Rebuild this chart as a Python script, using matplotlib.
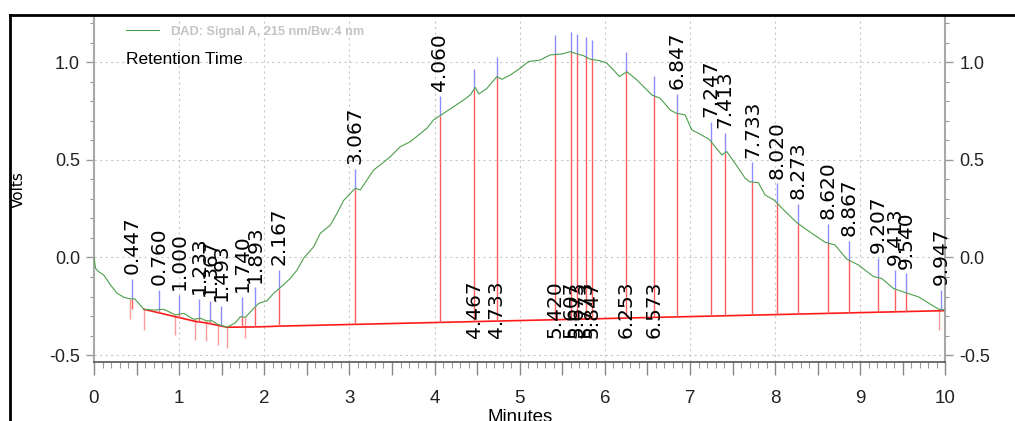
import matplotlib
matplotlib.use("Agg")
import matplotlib.pyplot as plt
from matplotlib.lines import Line2D
from matplotlib.ticker import MultipleLocator, FuncFormatter
import numpy as np

# DAD trace (minutes, volts)
trace_t = [0.0, 0.018, 0.056, 0.115, 0.194, 0.272, 0.350, 0.428, 0.479, 0.526,
           0.585, 0.702, 0.819, 0.957, 1.054, 1.171, 1.250, 1.320, 1.387, 1.453,
           1.563, 1.661, 1.719, 1.778, 1.857, 1.934, 2.033, 2.110, 2.209, 2.306,
           2.385, 2.462, 2.580, 2.658, 2.776, 2.854, 2.932, 3.011, 3.069, 3.128,
           3.167, 3.284, 3.363, 3.480, 3.597, 3.715, 3.812, 3.911, 3.988, 4.106,
           4.223, 4.340, 4.419, 4.478, 4.521, 4.615, 4.732, 4.791, 4.889, 5.006,
           5.103, 5.241, 5.358, 5.502, 5.593, 5.643, 5.749, 5.827, 5.937, 6.023,
           6.101, 6.171, 6.258, 6.376, 6.552, 6.649, 6.767, 6.840, 6.942, 7.021,
           7.099, 7.224, 7.295, 7.373, 7.432, 7.529, 7.647, 7.697, 7.803, 7.881,
           7.987, 8.120, 8.254, 8.430, 8.586, 8.703, 8.840, 8.977, 9.157, 9.251,
           9.387, 9.516, 9.681, 9.838, 9.923, 10.0]
trace_v = [0.000, -0.055, -0.073, -0.090, -0.141, -0.183, -0.204, -0.212, -0.212, -0.235,
           -0.265, -0.269, -0.265, -0.294, -0.286, -0.316, -0.311, -0.324, -0.324, -0.342,
           -0.357, -0.334, -0.303, -0.306, -0.269, -0.235, -0.221, -0.183, -0.146, -0.107,
           -0.064, -0.004, 0.055, 0.124, 0.166, 0.226, 0.292, 0.329, 0.354, 0.346,
           0.371, 0.448, 0.474, 0.516, 0.567, 0.593, 0.627, 0.662, 0.704, 0.738,
           0.772, 0.806, 0.832, 0.871, 0.837, 0.866, 0.926, 0.912, 0.934, 0.969,
           1.003, 1.011, 1.037, 1.042, 1.054, 1.046, 1.033, 1.015, 1.008, 0.994,
           0.960, 0.926, 0.951, 0.909, 0.832, 0.815, 0.755, 0.738, 0.730, 0.653,
           0.636, 0.605, 0.567, 0.525, 0.542, 0.482, 0.406, 0.388, 0.383, 0.320,
           0.294, 0.235, 0.178, 0.124, 0.078, 0.064, -0.008, -0.038, -0.098, -0.107,
           -0.158, -0.178, -0.201, -0.243, -0.265, -0.269]

# integration baseline
base_t = [0.585, 1.19, 1.32, 1.563, 1.934, 2.209, 10.0]
base_v = [-0.265, -0.327, -0.335, -0.357, -0.355, -0.351, -0.272]

# retention time labels
peak_labels = ["0.447", "0.760", "1.000", "1.233", "1.367", "1.493", "1.740", "1.893",
               "2.167", "3.067", "4.060", "4.467", "4.733", "5.420", "5.607", "5.673",
               "5.773", "5.847", "6.253", "6.573", "6.847", "7.247", "7.413", "7.733",
               "8.020", "8.273", "8.620", "8.867", "9.207", "9.413", "9.540", "9.947"]
# labels printed down on the baseline instead of above the peak
below_labels = ["4.467", "4.733", "5.420", "5.607", "5.673", "5.773", "5.847",
                "6.253", "6.573"]
# peak start/end ticks under the trace
end_marks = [0.428, 0.585, 0.957, 1.19, 1.32, 1.453, 1.563, 1.778, 9.923]

plt.rcParams["font.family"] = ["Liberation Sans", "DejaVu Sans"]
plt.rcParams["axes.unicode_minus"] = False

fig = plt.figure(figsize=(10.15, 4.21), dpi=100)
ax = fig.add_axes([0.0926, 0.1401, 0.8389, 0.8195])
ax.set_xlim(0, 10)
ax.set_ylim(-0.535, 1.231)

# grid
grid_kw = dict(color="#c8c8c8", lw=0.8, ls=(0, (2, 3)), zorder=0)
for v in range(1, 10):
    ax.axvline(v, **grid_kw)
for v in (-0.5, 0.0, 0.5, 1.0):
    ax.axhline(v, **grid_kw)

ax.plot(trace_t, trace_v, color="#4c9f4c", lw=0.8, zorder=3,
        label="DAD: Signal A, 215 nm/Bw:4 nm")
ax.plot(base_t, base_v, color="#ff1a1a", lw=1.2, zorder=2)

peak_t = np.array([float(s) for s in peak_labels])
apex = np.interp(peak_t, trace_t, trace_v)
base_at = np.interp(peak_t, base_t, base_v)
ax.vlines(peak_t, base_at, apex, color="#ff5c5c", lw=1.0, zorder=2)
ax.vlines(peak_t, apex, apex + 0.10, color="#8c8cff", lw=1.0, zorder=2)

mark_v = np.interp(end_marks, trace_t, trace_v)
ax.vlines(end_marks, mark_v - 0.105, mark_v, color="#ff9a9a", lw=1.0, zorder=1)

for t, a, s in zip(peak_t, apex, peak_labels):
    y = -0.41 if s in below_labels else a + 0.125
    ax.text(t, y, s, rotation=90, ha="center", va="bottom", fontsize=14.5,
            family="DejaVu Sans", color="black", clip_on=False, zorder=4)

# axes styling
ax.spines["top"].set_visible(False)
for side in ("left", "right"):
    ax.spines[side].set_color("#a8a8a8")
    ax.spines[side].set_linewidth(1.5)
ax.spines["bottom"].set_color("#555555")
ax.spines["bottom"].set_linewidth(1.2)

ax.xaxis.set_major_locator(MultipleLocator(0.5))
ax.xaxis.set_minor_locator(MultipleLocator(0.1))
ax.xaxis.set_major_formatter(FuncFormatter(
    lambda v, p: "%d" % round(v) if abs(v - round(v)) < 1e-6 else ""))
ax.yaxis.set_major_locator(MultipleLocator(0.5))
ax.yaxis.set_minor_locator(MultipleLocator(0.1))
ax.yaxis.set_major_formatter(FuncFormatter(lambda v, p: "%.1f" % v))

ax.tick_params(axis="x", which="major", length=9, width=1, color="#888888",
               pad=11, labelsize=13.5, labelcolor="#222222")
ax.tick_params(axis="x", which="minor", length=4, width=0.8, color="#999999")
ax.tick_params(axis="y", which="both", left=True, right=True,
               labelleft=True, labelright=True, color="#999999")
ax.tick_params(axis="y", which="major", length=6, width=1, pad=4,
               labelsize=13, labelcolor="#222222")
ax.tick_params(axis="y", which="minor", length=3, width=0.8)

leg = ax.legend(loc="upper left", bbox_to_anchor=(0.0376, 0.975), frameon=False,
                borderpad=0, borderaxespad=0, handlelength=2.6, handletextpad=0.9,
                prop=dict(size=9.2, weight="bold"))
for txt in leg.get_texts():
    txt.set_color("#c4c4c4")

ax.text(0.0376, 0.878, "Retention Time", transform=ax.transAxes, ha="left",
        va="center", fontsize=12.5, color="black")

fig.text(18 / 1015, 1 - 190 / 421, "Volts", rotation=90, ha="center", va="center",
         fontsize=11, family="DejaVu Sans")
fig.text(0.512, 1 - 409 / 421, "Minutes", ha="center", va="top", fontsize=13.5)

# black frame on top and left
fig.add_artist(Line2D([10 / 1015, 1.0], [1 - 15 / 421] * 2, color="black", lw=2,
                      transform=fig.transFigure))
fig.add_artist(Line2D([10 / 1015] * 2, [0.0, 1 - 15 / 421], color="black", lw=2,
                      transform=fig.transFigure))

fig.savefig("out.png", dpi=100)
